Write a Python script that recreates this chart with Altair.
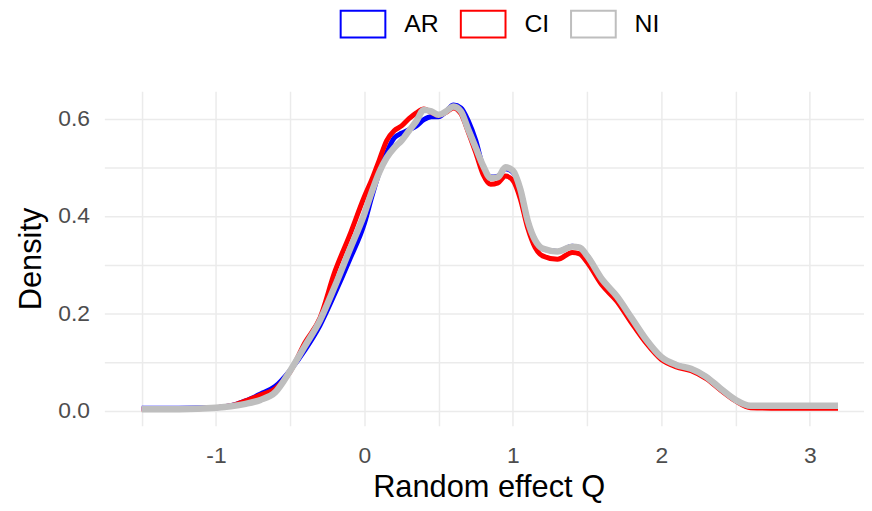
import altair as alt
import pandas as pd

# x grid (Random effect Q)
q = [-1.5, -1.25, -1.0, -0.9, -0.8, -0.7, -0.6, -0.5, -0.4, -0.3, -0.2, -0.1,
     0.0, 0.05, 0.1, 0.15, 0.2, 0.25, 0.3, 0.35, 0.4, 0.45, 0.5, 0.55, 0.6,
     0.65, 0.7, 0.75, 0.8, 0.85, 0.9, 0.95, 1.0, 1.05, 1.1, 1.15, 1.2, 1.3,
     1.4, 1.45, 1.5, 1.6, 1.7, 1.8, 1.9, 2.0, 2.1, 2.2, 2.3, 2.4, 2.5, 2.6,
     2.8, 3.0, 3.19]

ar = [0.005, 0.005, 0.006, 0.010, 0.020, 0.034, 0.050, 0.083, 0.125, 0.175, 0.240, 0.310,
      0.385, 0.440, 0.490, 0.530, 0.560, 0.570, 0.577, 0.585, 0.598, 0.604, 0.604, 0.615, 0.628,
      0.622, 0.595, 0.555, 0.500, 0.480, 0.482, 0.497, 0.490, 0.455, 0.390, 0.350, 0.333, 0.327,
      0.338, 0.335, 0.318, 0.270, 0.235, 0.190, 0.145, 0.110, 0.094, 0.086, 0.070, 0.045, 0.022, 0.010,
      0.010, 0.010, 0.010]

ci = [0.003, 0.003, 0.006, 0.010, 0.020, 0.032, 0.045, 0.080, 0.140, 0.190, 0.285, 0.360,
      0.440, 0.475, 0.515, 0.555, 0.575, 0.585, 0.600, 0.612, 0.620, 0.613, 0.607, 0.613, 0.622,
      0.610, 0.572, 0.530, 0.485, 0.465, 0.468, 0.482, 0.473, 0.435, 0.375, 0.335, 0.318, 0.311,
      0.325, 0.322, 0.305, 0.258, 0.225, 0.180, 0.138, 0.105, 0.090, 0.082, 0.066, 0.042, 0.020, 0.006,
      0.005, 0.005, 0.005]

ni = [0.003, 0.003, 0.006, 0.009, 0.014, 0.022, 0.038, 0.082, 0.133, 0.185, 0.255, 0.330,
      0.405, 0.450, 0.490, 0.520, 0.540, 0.555, 0.575, 0.595, 0.618, 0.615, 0.608, 0.615, 0.625,
      0.615, 0.577, 0.540, 0.503, 0.478, 0.480, 0.500, 0.493, 0.455, 0.390, 0.350, 0.333, 0.327,
      0.337, 0.335, 0.318, 0.270, 0.235, 0.190, 0.145, 0.110, 0.094, 0.086, 0.070, 0.045, 0.022, 0.010,
      0.010, 0.010, 0.010]

groups = ["AR", "CI", "NI"]
colors = ["#0000FF", "#FF0000", "#BEBEBE"]
widths = [5, 5, 6.5]

x_ticks = [-1.5, -1.0, -0.5, 0.0, 0.5, 1.0, 1.5, 2.0, 2.5, 3.0]
y_ticks = [0.0, 0.1, 0.2, 0.3, 0.4, 0.5, 0.6]

rows = []
for g, vals in zip(groups, [ar, ci, ni]):
    for xv, yv in zip(q, vals):
        rows.append({"q": xv, "density": yv, "group": g})
df = pd.DataFrame(rows)

FONT = "Liberation Sans"

xenc = alt.X("q:Q",
             scale=alt.Scale(domain=[-1.752, 3.365], nice=False, zero=False),
             axis=alt.Axis(values=x_ticks,
                           labelExpr="datum.value % 1 == 0 ? toString(datum.value) : ''",
                           title="Random effect Q",
                           titleX=387, titleY=71, titleAlign="center",
                           titleBaseline="alphabetic",
                           labelPadding=19))
yenc = alt.Y("density:Q",
             scale=alt.Scale(domain=[-0.0312, 0.6565], nice=False, zero=False),
             axis=alt.Axis(values=y_ticks,
                           labelExpr="round(datum.value*10) % 2 == 0 ? format(datum.value, '.1f') : ''",
                           title="Density",
                           titleX=-64, titleY=168.5, titleAngle=270,
                           titleAlign="center", titleBaseline="alphabetic",
                           labelPadding=15))

color = alt.Color("group:N",
                  scale=alt.Scale(domain=groups, range=colors),
                  legend=alt.Legend(orient="none", legendX=237, legendY=-91,
                                    direction="horizontal", title=None,
                                    symbolType="M-1,-0.6H1V0.6H-1Z",
                                    symbolSize=2025, symbolStrokeWidth=2,
                                    symbolFillColor="white",
                                    labelFontSize=25, labelFont=FONT,
                                    labelColor="black", labelOffset=18,
                                    columnPadding=18, padding=0))

layers = []
for g, w in zip(groups, widths):
    layers.append(
        alt.Chart(df).transform_filter(alt.datum.group == g)
        .mark_line(strokeWidth=w, interpolate="monotone", clip=True)
        .encode(x=xenc, y=yenc, color=color)
    )

chart = alt.layer(*layers).properties(
    width=765, height=337,
    autosize=alt.AutoSizeParams(type="none"),
    padding={"left": 97, "top": 82, "right": 0, "bottom": 76},
).configure_view(stroke=None).configure_axis(
    domain=False, ticks=False,
    grid=True, gridColor="#EBEBEB", gridWidth=1.5,
    labelFont=FONT, labelFontSize=23, labelColor="#4D4D4D",
    titleFont=FONT, titleFontSize=31, titleColor="black", titleFontWeight="normal",
)

chart.save("out.html", embed_options={"renderer": "svg", "actions": False})
